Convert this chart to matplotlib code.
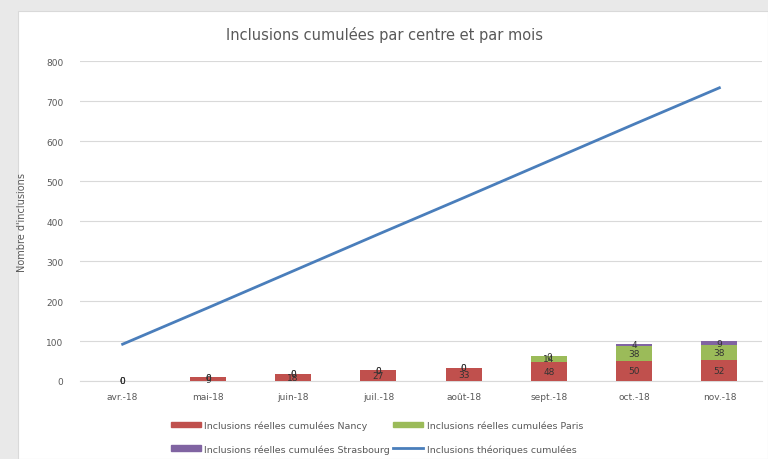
import numpy as np
import matplotlib.pyplot as plt
from matplotlib.patches import Patch, Rectangle
from matplotlib.lines import Line2D

# values
mois = ['avr.-18', 'mai-18', 'juin-18', 'juil.-18', 'août-18', 'sept.-18', 'oct.-18', 'nov.-18']
nancy = [0, 9, 18, 27, 33, 48, 50, 52]
paris = [0, 0, 0, 0, 0, 14, 38, 38]
strasbourg = [0, 0, 0, 0, 0, 0, 4, 9]
theoriques = [92, 183, 275, 367, 458, 550, 642, 733]

c_nancy = '#C0504D'
c_paris = '#9BBB59'
c_stras = '#8064A2'
c_theo = '#4A7EBB'
grey_txt = '#595959'

fig = plt.figure(figsize=(7.68, 4.6), dpi=100)
fig.patch.set_facecolor('#e9e9e9')
# white chart area with grey margin on left/top
bg = Rectangle((18 / 768, 0), 1 - 18 / 768, 1 - 12 / 460,
               transform=fig.transFigure, facecolor='white',
               edgecolor='#d9d9d9', lw=0.8, zorder=-10)
fig.add_artist(bg)

ax = fig.add_axes([80 / 768, 78 / 460, 682 / 768, 320 / 460])
ax.set_facecolor('none')

x = np.arange(len(mois))
w = 0.42
b1 = ax.bar(x, nancy, w, color=c_nancy, zorder=3)
b2 = ax.bar(x, paris, w, bottom=nancy, color=c_paris, zorder=3)
bot3 = np.array(nancy) + np.array(paris)
b3 = ax.bar(x, strasbourg, w, bottom=bot3, color=c_stras, zorder=3)
ax.plot(x, theoriques, color=c_theo, lw=2, zorder=4)

for cont in (b1, b2, b3):
    ax.bar_label(cont, label_type='center', fontsize=6.5, color='#333333', zorder=5)

ax.set_xlim(-0.5, len(mois) - 0.5)
ax.set_ylim(0, 800)
ax.set_yticks(range(0, 801, 100))
ax.set_xticks(x)
ax.set_xticklabels(mois)
ax.yaxis.grid(True, color='#d9d9d9', lw=0.8, zorder=0)
ax.set_axisbelow(True)
for s in ('top', 'right', 'left'):
    ax.spines[s].set_visible(False)
ax.spines['bottom'].set_color('#d9d9d9')
ax.tick_params(axis='both', length=0, labelsize=6.5, colors=grey_txt, pad=8)
ax.tick_params(axis='y', pad=12)

ax.set_ylabel("Nombre d'inclusions", fontsize=7, color=grey_txt, labelpad=14)
fig.text(0.5, 1 - 35 / 460, 'Inclusions cumulées par centre et par mois',
         ha='center', va='center', fontsize=10.5, color=grey_txt)

# column-wise fill: Nancy / Strasbourg in col 1, Paris / théoriques in col 2
handles = [
    Patch(color=c_nancy, label='Inclusions réelles cumulées Nancy'),
    Patch(color=c_stras, label='Inclusions réelles cumulées Strasbourg'),
    Patch(color=c_paris, label='Inclusions réelles cumulées Paris'),
    Line2D([], [], color=c_theo, lw=2, label='Inclusions théoriques cumulées'),
]
leg = fig.legend(handles=handles, ncol=2, loc='center left',
                 bbox_to_anchor=(162 / 768, 0.048),
                 frameon=False, fontsize=6.8, handlelength=3.2, handleheight=0.5,
                 columnspacing=0.3, handletextpad=0.4, labelspacing=1.5)
for t in leg.get_texts():
    t.set_color(grey_txt)

fig.savefig('out.png', dpi=100)
